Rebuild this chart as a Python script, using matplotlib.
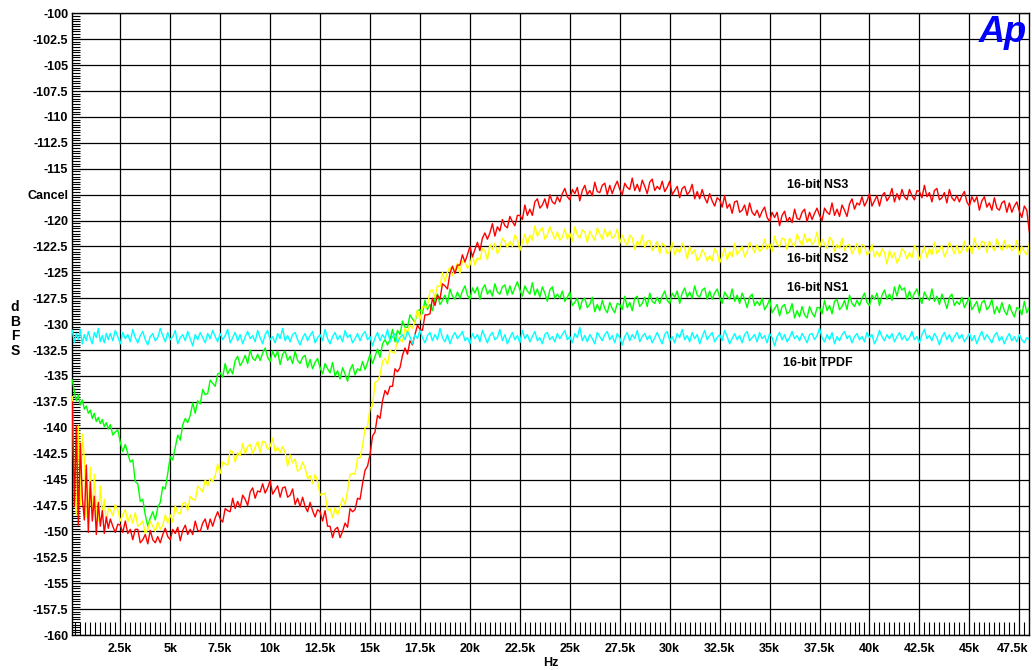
import numpy as np
import matplotlib
matplotlib.use('Agg')
import matplotlib.pyplot as plt
import matplotlib.transforms as mtransforms

plt.rcParams['font.family'] = ['Liberation Sans', 'DejaVu Sans']

# FFT bins: 100 Hz steps below 2 kHz, 125 Hz steps above
freqs = np.concatenate([np.arange(100, 2000, 100), np.arange(2000, 48001, 125)])

tpdf = [
    -130.6, -131.8, -130.9, -131.5, -130.5, -131.9, -131.0, -131.6, -130.7, -131.4,
    -131.9, -130.8, -131.3, -130.4, -131.7, -131.1, -131.8, -130.9, -131.5,
    # 2k - 48k
    -130.9, -131.6, -130.6, -131.2, -131.9, -130.8, -131.4, -131.0, -131.7, -130.5, -131.3, -131.8, -131.1, -130.7, -131.5, -132.0, -131.2, -130.9, -131.6, -131.3,
    -130.4, -131.1, -131.7, -130.8, -131.5, -131.2, -130.6, -131.9, -131.3, -131.0, -131.6, -130.7, -131.4, -132.1, -131.0, -131.5, -130.8, -131.3, -131.8, -130.9,
    -131.4, -130.6, -131.2, -131.7, -130.9, -131.5, -131.1, -130.5, -131.8, -131.3, -130.8, -131.6, -131.0, -131.9, -131.2, -130.7, -131.4, -131.1, -131.7, -130.6,
    -131.3, -131.9, -131.0, -130.6, -131.5, -131.2, -131.8, -130.9, -131.4, -130.4, -131.6, -131.1, -131.7, -131.0, -130.8, -131.5, -132.0, -131.3, -130.9, -131.6,
    -131.1, -130.7, -131.8, -131.3, -131.0, -131.6, -130.5, -131.4, -131.9, -131.2, -130.8, -131.5, -131.1, -131.7, -130.6, -131.3, -131.0, -131.8, -131.4, -130.9,
    -131.6, -131.0, -130.7, -131.5, -131.2, -132.1, -131.3, -130.8, -131.6, -131.0, -131.4, -130.5, -131.7, -131.2, -130.9, -131.8, -131.3, -131.0, -131.5, -130.7,
    -131.2, -131.9, -131.0, -131.4, -130.6, -131.3, -131.8, -131.1, -130.8, -131.6, -131.0, -131.5, -130.4, -131.3, -131.7, -131.0, -131.9, -131.2, -130.8, -131.4,
    -131.1, -130.7, -131.6, -131.3, -131.9, -130.9, -131.4, -131.0, -131.7, -130.6, -131.2, -131.8, -131.1, -130.8, -131.5, -131.3, -130.5, -131.6, -131.0, -131.9,
    -131.3, -130.8, -131.5, -131.1, -131.8, -130.6, -131.4, -131.0, -131.7, -131.2, -130.7, -131.6, -131.3, -131.9, -131.0, -130.8, -131.5, -131.2, -131.7, -130.9,
    -131.4, -131.0, -130.6, -131.5, -131.2, -131.8, -130.9, -131.3, -130.3, -131.6, -131.1, -131.7, -131.0, -131.4, -131.9, -130.8, -131.2, -131.6, -131.0, -130.7,
    -131.5, -131.1, -131.8, -130.9, -131.3, -132.0, -131.2, -130.8, -131.6, -131.0, -131.4, -130.6, -131.7, -131.2, -130.9, -131.5, -131.1, -131.8, -131.3, -130.8,
    -131.4, -131.9, -131.0, -130.7, -131.6, -131.2, -131.8, -130.9, -131.3, -130.5, -131.5, -131.1, -131.7, -130.8, -131.4, -131.0, -131.9, -131.2, -130.6, -131.5,
    -131.1, -130.8, -131.7, -131.3, -131.0, -131.6, -130.6, -131.2, -131.9, -131.4, -130.9, -131.5, -131.1, -131.8, -131.0, -130.7, -131.6, -131.3, -131.0, -131.7,
    -130.8, -131.4, -131.1, -131.8, -130.9, -131.3, -132.1, -131.2, -130.8, -131.5, -131.0, -131.7, -131.3, -130.7, -131.4, -131.1, -131.6, -130.9, -131.3, -131.8,
    -131.0, -130.9, -131.5, -131.1, -130.4, -131.3, -131.7, -131.0, -131.5, -130.8, -131.9, -131.2, -131.6, -131.0, -130.7, -131.4, -131.1, -131.8, -131.2, -130.9,
    -131.5, -131.2, -131.7, -130.8, -131.3, -131.0, -131.9, -131.4, -130.6, -131.2, -131.6, -131.0, -131.4, -130.9, -131.7, -131.2, -130.8, -131.5, -131.1, -131.6,
    -131.3, -130.7, -131.5, -131.2, -131.8, -131.0, -130.5, -131.4, -131.1, -131.6, -130.9, -131.3, -132.0, -131.2, -130.8, -131.5, -131.0, -131.7, -131.2, -130.8,
    -131.4, -131.0, -131.7, -131.3, -130.9, -131.6, -131.1, -131.9, -131.2, -130.7, -131.5, -131.0, -131.4, -131.8, -131.1, -130.8, -131.6, -131.2, -131.9, -131.3,
    -130.9, -131.6, -131.2, -131.7, -131.0, -131.5, -131.8, -131.3, -131.5,
]

ns1 = [
    -135.4, -136.5, -137.4, -136.8, -137.8, -137.3, -138.2, -137.9, -138.6, -138.3,
    -139.1, -138.6, -139.4, -139.0, -139.6, -139.2, -139.9, -139.5, -140.1,
    # 2k - 48k
    -139.7, -140.7, -140.4, -140.2, -141.4, -142.3, -141.6, -142.5, -143.3, -143.1, -145.2, -145.4, -147.1, -146.9, -148.4, -149.5, -148.7, -148.1, -148.9, -147.7,
    -147.2, -145.7, -145.9, -144.4, -142.8, -143.1, -141.9, -140.7, -141.2, -139.7, -139.1, -139.5, -138.8, -137.6, -138.6, -137.4, -137.7, -136.3, -136.8, -136.7,
    -135.4, -135.7, -136.0, -134.8, -134.7, -135.1, -133.8, -134.8, -134.3, -134.8, -133.5, -133.1, -134.0, -133.6, -133.0, -133.8, -132.5, -133.3, -133.5, -132.9,
    -133.5, -132.8, -132.3, -133.2, -133.6, -132.6, -133.2, -132.6, -133.9, -132.9, -132.6, -133.5, -133.1, -133.8, -132.6, -133.5, -133.8, -133.2, -133.0, -134.2,
    -133.4, -134.3, -133.7, -133.3, -134.2, -134.8, -133.8, -134.3, -134.7, -133.7, -135.0, -134.5, -135.3, -134.2, -134.8, -135.5, -134.4, -133.9, -134.9, -134.3,
    -134.5, -133.6, -134.4, -133.7, -132.9, -133.8, -133.1, -132.4, -133.2, -131.9, -131.5, -132.0, -131.5, -130.5, -131.7, -130.6, -131.0, -129.7, -130.3, -130.3,
    -129.1, -129.5, -129.8, -128.7, -128.6, -129.0, -127.7, -128.6, -128.1, -128.7, -127.5, -127.1, -128.1, -127.7, -127.2, -128.0, -126.6, -127.3, -127.6, -126.9,
    -127.5, -126.8, -126.3, -127.2, -127.6, -126.5, -127.0, -126.4, -127.6, -126.6, -126.2, -127.1, -126.7, -127.3, -126.1, -126.9, -127.1, -126.4, -126.2, -127.2,
    -126.3, -127.1, -126.5, -125.9, -126.7, -127.3, -126.3, -126.8, -127.1, -126.0, -127.2, -126.6, -127.4, -126.4, -127.0, -127.8, -126.7, -126.4, -127.5, -127.1,
    -127.5, -126.8, -127.8, -127.4, -126.9, -128.2, -127.9, -127.5, -128.6, -127.7, -127.5, -128.4, -128.1, -127.4, -128.8, -128.1, -128.7, -127.7, -128.5, -128.9,
    -127.9, -128.5, -128.9, -128.0, -128.1, -128.6, -127.3, -128.4, -127.9, -128.7, -127.5, -127.3, -128.3, -128.0, -127.4, -128.3, -127.0, -127.8, -128.0, -127.4,
    -128.0, -127.3, -126.8, -127.7, -128.0, -127.0, -127.4, -126.8, -128.0, -127.0, -126.5, -127.4, -126.9, -127.5, -126.3, -127.2, -127.4, -126.7, -126.5, -127.6,
    -126.8, -127.6, -127.0, -126.6, -127.4, -128.0, -126.9, -127.3, -127.6, -126.6, -127.8, -127.2, -128.0, -127.0, -127.6, -128.4, -127.4, -127.1, -128.2, -127.8,
    -128.2, -127.5, -128.6, -128.2, -127.6, -128.9, -128.5, -128.1, -129.2, -128.3, -128.1, -129.0, -128.8, -128.0, -129.4, -128.7, -129.3, -128.3, -129.1, -129.4,
    -128.3, -128.9, -129.3, -128.4, -128.4, -129.0, -127.7, -128.7, -128.2, -129.0, -127.8, -127.6, -128.6, -128.3, -127.7, -128.6, -127.2, -128.0, -128.3, -127.7,
    -128.2, -127.5, -127.0, -127.9, -128.2, -127.2, -127.6, -127.0, -128.2, -127.2, -126.7, -127.6, -127.1, -127.7, -126.4, -127.3, -126.2, -126.7, -126.5, -127.6,
    -126.8, -127.6, -127.0, -126.6, -127.4, -128.0, -126.9, -127.4, -127.7, -126.6, -127.8, -127.3, -128.1, -127.1, -127.7, -128.5, -127.4, -127.1, -128.2, -127.8,
    -128.1, -127.4, -128.4, -127.9, -127.4, -128.6, -128.2, -127.8, -128.9, -127.9, -127.7, -128.6, -128.3, -127.6, -129.0, -128.3, -128.9, -127.9, -128.7, -129.1,
    -128.1, -128.8, -129.3, -128.4, -128.5, -129.1, -127.8, -128.9, -128.4,
]

ns2 = [
    -137.0, -146.2, -148.4, -139.8, -147.5, -140.6, -142.9, -148.6, -147.9, -143.8,
    -148.8, -144.5, -148.1, -149.0, -145.6, -148.5, -146.9, -149.1, -147.8,
    # 2k - 48k
    -147.9, -148.5, -147.4, -147.9, -149.0, -148.4, -147.9, -149.1, -148.4, -149.2, -148.2, -149.5, -149.3, -149.0, -150.2, -149.8, -149.0, -149.5, -150.0, -149.1,
    -149.8, -149.4, -148.4, -149.2, -148.4, -149.1, -147.5, -148.2, -148.3, -147.3, -147.2, -148.0, -146.6, -146.9, -147.0, -145.6, -145.9, -146.2, -145.0, -145.6,
    -144.9, -145.2, -144.6, -143.5, -144.4, -143.3, -143.5, -143.6, -142.2, -142.3, -143.3, -142.4, -142.7, -141.5, -142.5, -141.8, -141.6, -142.5, -141.9, -141.3,
    -142.4, -141.3, -141.4, -142.1, -141.8, -141.0, -142.3, -141.9, -142.4, -141.8, -142.4, -143.7, -142.6, -143.4, -143.0, -144.2, -144.0, -143.3, -143.9, -144.9,
    -144.6, -145.4, -144.5, -145.2, -146.5, -146.4, -146.3, -148.0, -147.8, -148.7, -147.7, -148.4, -147.7, -146.8, -147.4, -146.1, -144.5, -144.4, -144.5, -142.9,
    -142.9, -141.7, -140.0, -139.9, -138.1, -137.9, -135.6, -135.5, -134.9, -133.6, -133.3, -133.9, -132.5, -132.7, -132.8, -131.2, -131.5, -131.7, -130.4, -130.8,
    -130.1, -130.4, -129.7, -128.6, -129.6, -128.3, -128.4, -128.3, -126.8, -126.7, -127.4, -126.3, -126.4, -125.0, -125.9, -125.0, -124.5, -125.3, -124.7, -124.1,
    -125.1, -123.9, -124.0, -124.6, -124.3, -123.3, -124.3, -123.6, -123.8, -122.7, -122.9, -123.8, -122.3, -122.8, -122.2, -123.2, -122.7, -121.7, -122.0, -122.6,
    -122.0, -122.5, -121.4, -121.8, -122.9, -122.1, -121.3, -122.3, -121.4, -121.9, -120.5, -121.5, -121.0, -120.7, -121.8, -121.4, -120.6, -121.2, -121.8, -121.1,
    -121.9, -121.6, -120.8, -121.8, -121.2, -122.0, -120.6, -121.4, -121.7, -120.9, -121.1, -122.1, -121.0, -121.5, -121.9, -120.7, -121.3, -121.8, -120.8, -121.6,
    -121.0, -121.7, -121.5, -120.8, -122.2, -121.4, -122.0, -122.4, -121.4, -121.7, -122.8, -122.0, -122.4, -121.4, -122.6, -122.0, -121.9, -122.9, -122.5, -122.0,
    -123.2, -122.2, -122.4, -123.2, -123.0, -122.1, -123.3, -122.7, -123.1, -122.2, -122.6, -123.7, -122.5, -123.2, -122.8, -123.9, -123.6, -122.8, -123.2, -123.9,
    -123.4, -123.9, -122.7, -123.1, -124.1, -123.4, -122.7, -123.8, -123.0, -123.5, -122.2, -123.3, -122.9, -122.5, -123.5, -123.0, -122.1, -122.6, -123.1, -122.3,
    -123.0, -122.7, -121.8, -122.8, -122.2, -123.0, -121.5, -122.3, -122.5, -121.7, -121.8, -122.8, -121.7, -122.2, -122.5, -121.3, -121.9, -122.4, -121.3, -122.1,
    -121.7, -122.3, -122.0, -121.1, -122.6, -121.8, -122.3, -122.7, -121.6, -121.9, -123.0, -122.3, -122.7, -121.7, -122.9, -122.4, -122.3, -123.2, -122.7, -122.2,
    -123.3, -122.3, -122.5, -123.3, -123.1, -122.3, -123.5, -123.0, -123.5, -122.7, -123.1, -124.2, -122.9, -123.6, -123.1, -124.1, -123.6, -122.7, -123.0, -123.7,
    -123.1, -123.6, -122.4, -122.8, -123.8, -123.1, -122.5, -123.6, -122.7, -123.3, -122.1, -123.2, -122.8, -122.4, -123.5, -123.0, -122.1, -122.6, -123.2, -122.4,
    -123.2, -122.9, -122.0, -123.0, -122.4, -123.2, -121.7, -122.5, -122.8, -122.0, -122.1, -123.1, -122.0, -122.5, -122.9, -121.8, -122.4, -122.9, -121.9, -122.7,
    -122.3, -122.9, -122.7, -121.9, -123.3, -122.5, -123.0, -123.3, -122.2,
]

ns3 = [
    -137.5, -147.6, -139.8, -149.4, -141.5, -146.8, -148.9, -143.6, -150.1, -145.2,
    -149.0, -146.6, -150.3, -147.2, -149.5, -148.0, -150.2, -148.6, -149.7,
    # 2k - 48k
    -148.8, -149.5, -150.1, -149.3, -149.4, -150.1, -149.0, -150.2, -149.8, -150.8, -149.8, -149.8, -151.1, -150.8, -150.3, -151.2, -149.9, -150.8, -151.1, -150.5,
    -151.1, -150.3, -149.7, -150.5, -150.8, -149.8, -150.2, -149.6, -150.9, -149.9, -149.4, -150.3, -149.8, -150.3, -149.0, -149.9, -150.0, -149.2, -148.8, -149.8,
    -148.8, -149.5, -148.7, -148.1, -148.8, -149.1, -147.8, -148.0, -148.1, -146.8, -147.8, -147.1, -147.7, -146.5, -146.9, -147.5, -146.2, -145.8, -146.8, -146.1,
    -146.2, -145.4, -146.3, -145.8, -145.1, -146.4, -146.0, -145.6, -146.7, -145.8, -145.7, -146.7, -146.5, -145.9, -147.4, -146.8, -147.6, -146.7, -147.6, -148.1,
    -147.2, -148.0, -148.6, -147.9, -148.1, -149.0, -148.0, -149.5, -149.5, -150.6, -149.8, -149.6, -150.6, -150.0, -149.2, -149.6, -147.8, -148.1, -147.9, -146.8,
    -146.9, -145.4, -144.1, -143.7, -142.6, -140.8, -140.4, -138.8, -139.1, -137.4, -136.4, -136.8, -136.0, -136.0, -134.3, -134.6, -134.2, -133.0, -132.3, -132.9,
    -131.6, -132.0, -131.0, -130.1, -130.5, -130.6, -129.1, -129.1, -129.0, -127.5, -128.2, -127.2, -127.6, -126.1, -126.3, -126.6, -125.1, -124.4, -125.1, -124.3,
    -124.3, -123.3, -124.0, -123.3, -122.5, -123.5, -122.8, -122.1, -122.9, -121.7, -121.2, -121.8, -121.2, -120.3, -121.5, -120.6, -121.0, -119.9, -120.5, -120.7,
    -119.6, -120.1, -120.5, -119.5, -119.5, -119.9, -118.5, -119.5, -118.9, -119.5, -118.2, -117.9, -118.8, -118.5, -117.9, -118.8, -117.5, -118.2, -118.4, -117.7,
    -118.2, -117.4, -116.9, -117.7, -118.0, -117.0, -117.4, -116.8, -118.1, -117.1, -116.6, -117.5, -117.1, -117.6, -116.3, -117.2, -117.3, -116.6, -116.4, -117.5,
    -116.6, -117.4, -116.7, -116.2, -117.0, -117.5, -116.4, -116.8, -117.0, -115.9, -117.1, -116.5, -117.2, -116.1, -116.7, -117.4, -116.3, -116.0, -117.1, -116.7,
    -117.0, -116.2, -117.2, -116.8, -116.2, -117.5, -117.1, -116.7, -117.8, -116.9, -116.7, -117.5, -117.2, -116.5, -117.9, -117.2, -117.9, -117.0, -117.8, -118.3,
    -117.4, -118.1, -118.6, -117.8, -118.0, -118.7, -117.6, -118.8, -118.4, -119.3, -118.2, -118.1, -119.2, -119.0, -118.5, -119.5, -118.3, -119.2, -119.5, -119.0,
    -119.7, -119.1, -118.7, -119.7, -120.1, -119.2, -119.7, -119.2, -120.5, -119.5, -119.1, -120.1, -119.7, -120.2, -118.9, -119.8, -119.9, -119.2, -118.9, -120.1,
    -119.2, -119.9, -119.3, -118.8, -119.5, -120.0, -118.8, -119.2, -119.4, -118.3, -119.5, -118.9, -119.6, -118.5, -119.0, -119.6, -118.4, -117.9, -118.9, -118.3,
    -118.5, -117.7, -118.6, -118.1, -117.4, -118.6, -118.1, -117.6, -118.6, -117.6, -117.3, -118.1, -117.7, -116.9, -118.2, -117.4, -118.0, -117.0, -117.7, -118.0,
    -117.0, -117.6, -118.0, -117.1, -117.2, -117.8, -116.6, -117.7, -117.3, -118.2, -117.1, -116.9, -118.0, -117.8, -117.3, -118.3, -117.0, -117.8, -118.1, -117.6,
    -118.2, -117.6, -117.2, -118.2, -118.6, -117.7, -118.2, -117.7, -119.0, -118.1, -117.7, -118.7, -118.3, -119.0, -117.8, -118.8, -119.0, -118.3, -118.1, -119.2,
    -118.3, -119.2, -118.6, -118.2, -119.1, -119.7, -118.6, -119.0, -121.1,
]

trace_labels = ['16-bit NS3', '16-bit NS2', '16-bit NS1', '16-bit TPDF']
label_freqs = [37400, 37400, 37400, 37400]
label_levels = [-116.6, -123.7, -126.5, -133.7]

fig = plt.figure(figsize=(10.32, 6.70), dpi=100)
ax = fig.add_axes([0.0701, 0.0522, 0.9273, 0.9279])

ax.plot(freqs, ns1, color='#00ff00', lw=1, zorder=3)
ax.plot(freqs, ns2, color='#ffff00', lw=1, zorder=4)
ax.plot(freqs, ns3, color='#ff0000', lw=1, zorder=5)
ax.plot(freqs, tpdf, color='#00ffff', lw=1, zorder=6)

for label, f, level in zip(trace_labels, label_freqs, label_levels):
    ax.text(f, level, label, ha='center', va='center',
            fontsize=9, fontweight='bold', zorder=7)

ax.set_xlim(100, 48000)
ax.set_ylim(-160, -100)

xticks = np.arange(2500, 48000, 2500)
ax.set_xticks(xticks)
ax.set_xticklabels(['%gk' % (v / 1000) for v in xticks])
ax.set_xticks(np.arange(250, 48000, 250), minor=True)

yticks = np.arange(-160, -99.9, 2.5)
ax.set_yticks(yticks)
ax.set_yticklabels(['Cancel' if v == -117.5 else '%g' % v for v in yticks])
ax.set_yticks(np.arange(-160, -100, 0.25), minor=True)

for lbl in ax.get_xticklabels() + ax.get_yticklabels():
    lbl.set_fontweight('bold')
    lbl.set_fontsize(9)

ax.tick_params(axis='x', which='major', length=0, pad=6)
ax.tick_params(axis='x', which='minor', direction='in', length=9.5, width=0.8)
ax.tick_params(axis='y', which='major', length=0, pad=3)
ax.tick_params(axis='y', which='minor', direction='in', length=6, width=0.8)

# keep the last frequency label inside the figure
last = ax.xaxis.get_major_ticks()[-1].label1
last.set_transform(last.get_transform()
                   + mtransforms.ScaledTranslation(-0.07, 0, fig.dpi_scale_trans))

ax.grid(True, which='major', color='black', linewidth=0.9, zorder=1)
ax.set_axisbelow(True)
for spine in ax.spines.values():
    spine.set_linewidth(1)
    spine.set_color('black')

fig.text(0.5339, 0.0104, 'Hz', ha='center', va='center', fontsize=9, fontweight='bold')
fig.text(0.0145, 0.509, 'd\nB\nF\nS', ha='center', va='center',
         fontsize=10, fontweight='bold', linespacing=1.05)

# Ap logo in the top right corner
fig.text(0.972, 0.937, 'Ap', ha='center', va='baseline', fontsize=26,
         fontweight='bold', fontstyle='italic', color='#0000ff')

fig.savefig('out.png', dpi=100)
